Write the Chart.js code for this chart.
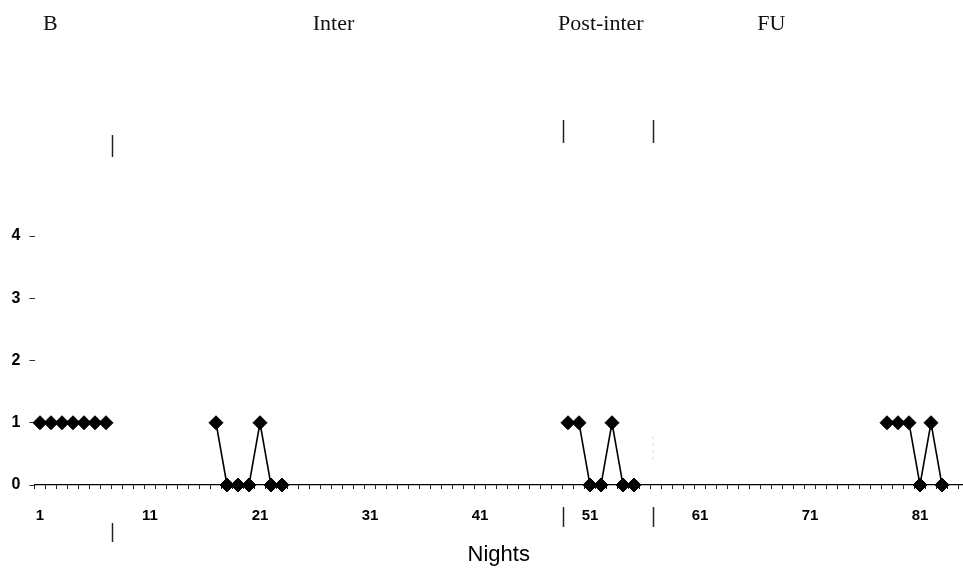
<!DOCTYPE html>
<html>
<head>
<meta charset="utf-8">
<script src="https://cdn.jsdelivr.net/npm/chart.js@4.4.1/dist/chart.umd.min.js"></script>
<style>
  html, body { margin: 0; padding: 0; background: #ffffff; }
  #wrap { width: 963px; height: 570px; position: relative; }
</style>
</head>
<body>
<div id="wrap"><canvas id="chart" width="963" height="570"></canvas></div>
<script>
// Nightly scores, one series per phase of the study
const baselineNights = [1, 2, 3, 4, 5, 6, 7];
const baselineValues = [1, 1, 1, 1, 1, 1, 1];

const interNights = [17, 18, 19, 20, 21, 22, 23];
const interValues = [1, 0, 0, 0, 1, 0, 0];

const postNights = [49, 50, 51, 52, 53, 54, 55];
const postValues = [1, 1, 0, 0, 1, 0, 0];

const followUpNights = [78, 79, 80, 81, 82, 83];
const followUpValues = [1, 1, 1, 0, 1, 0];

// Axis ticks
const nightLabels = [1, 11, 21, 31, 41, 51, 61, 71, 81];
const scoreTicks = [0, 1, 2, 3, 4];

// Phase names and the nights where one phase changes to the next
const phaseNames = ['B', 'Inter', 'Post-inter', 'FU'];
const phaseChanges = [7.5, 48.5, 56.5];

// Where the phase names start along the night axis
const phaseNameAnchors = [1.27, 25.8, 48.1, 66.2];

function toPoints(xs, ys) {
  return xs.map((x, i) => ({ x: x, y: ys[i] }));
}

const seriesStyle = {
  borderColor: '#000000',
  backgroundColor: '#000000',
  borderWidth: 1.6,
  pointStyle: 'rectRot',
  pointRadius: 7,
  pointHoverRadius: 7,
  pointBorderWidth: 1,
  pointBorderColor: '#000000',
  pointBackgroundColor: '#000000',
  tension: 0,
  fill: false,
  clip: false
};

const datasets = [
  [baselineNights, baselineValues],
  [interNights, interValues],
  [postNights, postValues],
  [followUpNights, followUpValues]
].map(([xs, ys]) => Object.assign({ data: toPoints(xs, ys) }, seriesStyle));

// Phase names along the top and the short phase-change marks
const phasePlugin = {
  id: 'phaseMarks',
  afterDraw(chart) {
    const ctx = chart.ctx;
    const xs = chart.scales.x;
    ctx.save();
    ctx.fillStyle = '#111111';
    ctx.font = '22px "Liberation Serif", "DejaVu Serif", serif';
    ctx.textAlign = 'left';
    ctx.textBaseline = 'alphabetic';
    phaseNames.forEach((name, i) => {
      ctx.fillText(name, xs.getPixelForValue(phaseNameAnchors[i]), 30);
    });

    const segs = [
      [[135, 157], [523, 542]],
      [[120, 143], [507, 527]],
      [[120, 143], [507, 527]]
    ];
    const nudge = [1.5, 1.5, 3.5];
    ctx.strokeStyle = '#222222';
    ctx.lineWidth = 1.5;
    phaseChanges.forEach((n, i) => {
      const px = Math.round(xs.getPixelForValue(n)) + nudge[i];
      segs[i].forEach(([y0, y1]) => {
        ctx.beginPath();
        ctx.moveTo(px, y0);
        ctx.lineTo(px, y1);
        ctx.stroke();
      });
    });
    // faint trace of the last change line inside the plot
    ctx.strokeStyle = '#d8d8d8';
    ctx.lineWidth = 1;
    ctx.setLineDash([3, 4]);
    const lastPx = Math.round(xs.getPixelForValue(phaseChanges[2])) + 3;
    ctx.beginPath();
    ctx.moveTo(lastPx, 436);
    ctx.lineTo(lastPx, 460);
    ctx.stroke();
    ctx.restore();
  }
};

const halfNightTicks = [];
for (let v = 0.5; v <= 84.5; v += 1) halfNightTicks.push(v);

new Chart(document.getElementById('chart'), {
  type: 'line',
  data: { datasets: datasets },
  options: {
    responsive: false,
    animation: false,
    events: [],
    layout: { padding: { top: 49.25, right: 0, bottom: 0, left: 0 }, autoPadding: false },
    plugins: {
      legend: { display: false },
      tooltip: { enabled: false },
      title: { display: false }
    },
    scales: {
      x: {
        type: 'linear',
        min: 0.5,
        max: 84.91,
        afterBuildTicks(scale) {
          const all = halfNightTicks.concat(nightLabels);
          all.sort((a, b) => a - b);
          scale.ticks = all.map(v => ({ value: v }));
        },
        afterFit(scale) {
          scale.height = 85;
          scale.paddingLeft = 0;
          scale.paddingRight = 0;
        },
        border: { display: true, color: '#000000', width: 1.2 },
        grid: {
          drawOnChartArea: false,
          drawTicks: true,
          tickLength: 4,
          tickWidth: 1,
          color: (c) => (c.tick && Number.isInteger(c.tick.value)) ? 'rgba(0,0,0,0)' : '#222222'
        },
        ticks: {
          autoSkip: false,
          maxRotation: 0,
          padding: 18,
          color: '#000000',
          font: { family: '"Liberation Sans", Arial, sans-serif', size: 15, weight: 'bold' },
          callback: (v) => nightLabels.includes(v) ? String(v) : ''
        },
        title: {
          display: true,
          text: 'Nights',
          color: '#000000',
          font: { family: '"Liberation Sans", Arial, sans-serif', size: 22 },
          padding: { top: 0, bottom: 2 }
        }
      },
      y: {
        type: 'linear',
        min: 0,
        max: 7,
        afterBuildTicks(scale) {
          scale.ticks = scoreTicks.map(v => ({ value: v }));
        },
        afterFit(scale) {
          scale.width = 34.5;
          scale.paddingTop = 0;
          scale.paddingBottom = 0;
        },
        border: { display: false },
        grid: {
          drawOnChartArea: false,
          drawTicks: true,
          tickLength: 5,
          tickWidth: 1,
          color: '#333333'
        },
        ticks: {
          padding: 9,
          color: '#000000',
          font: { family: '"Liberation Sans", Arial, sans-serif', size: 16, weight: 'bold' }
        }
      }
    }
  },
  plugins: [phasePlugin]
});
</script>
</body>
</html>
